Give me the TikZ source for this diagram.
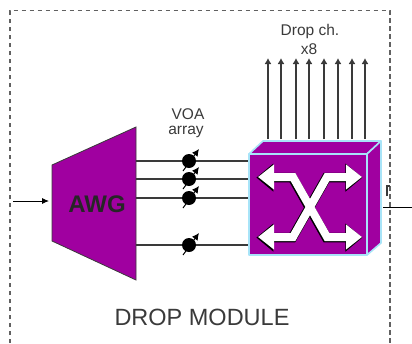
\documentclass[tikz,border=0pt]{standalone}
\usepackage{xcolor}
\usepackage{fontspec}
\setmainfont{Liberation Sans}
\usetikzlibrary{arrows.meta,positioning}
\definecolor{modpurple}{HTML}{A000A0}
\definecolor{modcyan}{HTML}{A8E4F8}
\definecolor{modgray}{HTML}{3A3A3A}
\tikzset{
    sigline/.style={draw=modgray, line width=1.4pt},
    dropline/.style={draw=modgray, line width=1.4pt, -{Latex[length=6pt,width=7pt]}},
    voa/.style={circle, fill=black, inner sep=0pt, minimum size=14pt},
    voatick/.style={draw=black, line width=1pt, -{Latex[length=7pt,width=7pt]}},
    txtlabel/.style={text=modgray, font=\fontsize{15.5}{15.5}\selectfont, inner sep=0pt},
    swface/.style={fill=modpurple, draw=modcyan, line width=1.6pt, line join=round},
    xwhite/.style={draw=white, line width=8pt, -{Triangle[length=16pt,width=24pt]}},
    xdark/.style={draw=black, line width=9.5pt, -{Triangle[length=17pt,width=27pt]}},
}
\begin{document}
\begin{tikzpicture}[x=1pt,y=-1pt]
    \useasboundingbox (0,0) rectangle (412,343);
    \draw[modgray!80, line width=1.4pt, dash pattern=on 4.5pt off 3.5pt]
        (10,343) -- (10,10.5) -- (390,10.5) -- (390,343);

    \draw[fill=modpurple, draw=modgray, line width=0.8pt]
        (52,165) -- (136,127) -- (136,280) -- (52,241) -- cycle;
    \node[font=\bfseries\fontsize{24}{24}\selectfont, text=black!85, inner sep=0pt] (awg) at (97,204) {AWG};
    \coordinate (in) at (13,201);
    \coordinate (awgin) at (49,201);
    \draw[draw=black, line width=0.9pt, -{Latex[length=7pt,width=6pt]}] (in) -- (awgin);

    \draw[swface] (249,154) -- (263,141) -- (381,141) -- (367,154) -- cycle;
    \draw[swface] (367,154) -- (381,141) -- (381,243) -- (367,255) -- cycle;
    \node[swface, minimum width=118pt, minimum height=101pt, inner sep=0pt] (sw) at (308,204.5) {};

    \foreach \i/\y in {1/161,2/179,3/198,4/245} {
        \coordinate (a\i) at (136,\y);
        \coordinate (s\i) at (248,\y);
        \node[voa] (v\i) at (189,\y) {};
        \draw[sigline] (a\i) -- (v\i) -- (s\i);
        \draw[voatick] (183,\y+10) -- (199,\y-12);
    }

    \foreach \i/\x in {1/268,2/281,3/296,4/309,5/324,6/338,7/352,8/365} {
        \coordinate (d\i) at (\x,139);
        \coordinate (o\i) at (\x,58);
        \draw[dropline] (d\i) -- (o\i);
    }

    \coordinate (out) at (412,207);
    \coordinate (swout) at (383,207);
    \draw[draw=black, line width=0.9pt] (swout) -- (out);
    \draw[modgray, line width=1.2pt] (387,196) -- (387,186) -- (390,186);

    \foreach \xa/\xb/\ya in {293/257/177,327/363/177,293/257/237,327/363/237} {
        \draw[xdark, shift={(-0.6,0.6)}] (310,207) -- (\xa,\ya) -- (\xb,\ya);
    }
    \foreach \xa/\xb/\ya in {293/258/177,327/362/177,293/258/237,327/362/237} {
        \draw[xwhite] (310,207) -- (\xa,\ya) -- (\xb,\ya);
    }

    \node[txtlabel] (voalbl) at (188,114) {VOA};
    \node[txtlabel] (arraylbl) at (186,132) {array};
    \node[txtlabel] (droplbl) at (310,31) {Drop ch.};
    \node[txtlabel] (xlbl) at (309,49) {x8};
    \node[text=modgray, font=\fontsize{23.5}{23.5}\selectfont, inner sep=0pt] (title) at (202,317) {DROP MODULE};
\end{tikzpicture}
\end{document}
